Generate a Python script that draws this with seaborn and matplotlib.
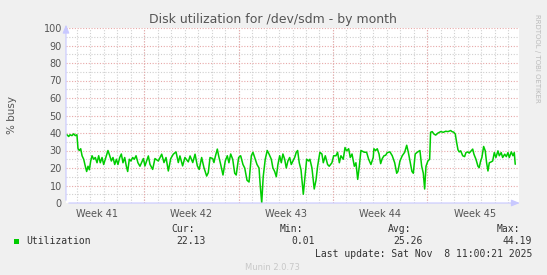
import matplotlib
matplotlib.use("Agg")
import matplotlib.pyplot as plt
import numpy as np
import pandas as pd
import seaborn as sns

# days since the left edge of the graph, % busy
days = [0.07, 0.20, 0.30, 0.44, 0.57, 0.69, 0.81, 0.89, 0.99, 1.09, 1.19, 1.31, 1.43, 1.53, 1.63, 1.73,
        1.83, 1.93, 2.05, 2.17, 2.30, 2.42, 2.54, 2.67, 2.79, 2.91, 3.11, 3.24, 3.36, 3.48, 3.61, 3.73,
        3.85, 3.98, 4.10, 4.22, 4.35, 4.47, 4.57, 4.69, 4.81, 4.94, 5.06, 5.19, 5.33, 5.48,
        5.73, 5.85, 6.10, 6.22, 6.42, 6.59, 6.84, 7.09, 7.26, 7.41, 7.58, 7.76, 7.95, 8.15, 8.32, 8.44,
        8.64, 8.81, 9.06, 9.19, 9.39, 9.56, 9.73, 9.87, 10.05, 10.22, 10.42, 10.54, 10.67, 10.87, 10.96,
        11.06, 11.21, 11.31,
        11.46, 11.63, 11.80, 11.95, 12.07, 12.20, 12.35, 12.50, 12.61, 12.79, 12.94, 13.11, 13.24, 13.41,
        13.56, 13.73, 13.85, 13.98, 14.15, 14.30, 14.39, 14.50, 14.61, 14.76, 14.91, 15.04, 15.21, 15.33,
        15.46, 15.58, 15.70, 15.83, 15.95, 16.07, 16.20, 16.32, 16.44, 16.57, 16.69, 16.81, 16.94, 17.06,
        17.16, 17.28, 17.41, 17.58, 17.73, 17.83, 17.98, 18.07, 18.22, 18.39, 18.52, 18.64, 18.81, 18.96,
        19.06, 19.21, 19.38, 19.50, 19.70, 19.83, 20.00, 20.12, 20.25, 20.37, 20.54, 20.67, 20.79, 20.94,
        21.06, 21.19, 21.36, 21.48, 21.61, 21.73, 21.85, 22.10, 22.27, 22.42, 22.59, 22.76,
        22.81, 22.94, 23.06, 23.19, 23.31, 23.43, 23.56, 23.68, 23.80, 24.00, 24.17, 24.35, 24.50, 24.59,
        24.74, 24.91, 25.09, 25.24, 25.36, 25.48, 25.63, 25.73, 25.87, 26.02, 26.22, 26.35, 26.47, 26.57,
        26.67, 26.81, 26.94, 27.01, 27.13, 27.26, 27.39, 27.56, 27.76, 27.95, 28.13, 28.30, 28.50,
        28.59, 28.72, 28.84, 28.94, 29.04, 29.13, 29.24, 29.39, 29.53, 29.63, 29.78, 29.87, 30.02, 30.13,
        30.22, 30.37, 30.52, 30.61, 30.72, 30.81, 30.94, 31.06, 31.16, 31.26, 31.36, 31.50, 31.61, 31.73,
        31.85, 32.00, 32.10, 32.24, 32.35, 32.50, 32.62, 32.74, 32.84, 32.99, 33.11, 33.21, 33.28]
busy = [39, 38, 39, 38.5, 39.5, 38.5, 39, 31, 30, 31, 27, 25, 21, 18, 21, 19,
        24, 27, 25, 26, 23, 27, 23, 26, 22, 25, 30, 27, 24, 26, 22, 25,
        22, 26, 28, 23, 26, 21, 18, 25, 24, 26, 25, 27, 23, 21,
        25.4, 21.2, 26.9, 22.1, 19.2, 25.4, 24, 27.9, 23.1, 26, 18.3, 25.4, 27.9, 29.2, 23.1, 26.9,
        21.2, 26, 23.5, 26.9, 23.1, 27.9, 21.2, 19.2, 26, 20.2, 15.4, 17.3, 26, 25.4, 23.1,
        26.5, 30.8, 26.9,
        22, 16, 24, 27, 23, 28, 25, 17, 16, 26, 27, 22, 20, 13,
        12, 27, 29, 26, 22, 20, 10, 0.01, 15, 25, 30, 28, 25, 20,
        18, 15, 22, 27, 23, 28, 25, 20, 24, 26, 22, 24, 26, 29,
        30, 23, 19, 5, 17, 25, 24, 25, 20, 8, 13, 21, 29, 28,
        23, 27, 22, 21, 23, 27, 27, 29, 23, 27, 25, 31.7, 29.8, 31,
        26, 28, 21, 23, 13.5, 21, 30, 29, 29, 25, 22, 26,
        31, 30, 31, 28, 22.5, 25.4, 27, 27.3, 28.8, 29.2, 27, 23, 17, 18,
        24, 27, 29, 33, 29, 24, 18, 17, 28, 29, 30, 21, 17, 8,
        21, 24, 25, 40.4, 40.8, 39.4, 38.8, 40, 40.8, 40.4, 41, 40.8, 41.4,
        40.8, 40.5, 39.4, 34.6, 30.4, 29.2, 29.8, 27, 26.5, 28.8, 29.2, 28.5, 29.8, 30.8,
        27.9, 25, 21, 20.2, 24, 26, 32.3, 29.8, 23, 18.3, 23, 23.5, 24, 28.8,
        26, 29.8, 27, 28.8, 26, 27.9, 26.5, 28.8, 26, 29.2, 27, 28.8, 22.13]

week_edges = [5.78, 12.78, 19.78, 26.78]
week_names = ["Week 41", "Week 42", "Week 43", "Week 44", "Week 45"]
y_ticks = [0, 10, 20, 30, 40, 50, 60, 70, 80, 90, 100]
x_max = 33.56

legend_name = "Utilization"
stat_names = ["Cur:", "Min:", "Avg:", "Max:"]
stat_values = ["22.13", "0.01", "25.26", "44.19"]
last_update = "Last update: Sat Nov  8 11:00:21 2025"

W, H = 547, 275
BACK = "#F0F0F0"
GREEN = "#00CC00"
MINOR = "#D0D0D0"
MAJOR = "#E8A8A8"
AXIS = "#C8C8FF"
FONT = "#555555"


def px(x, y):
    return x / W, 1 - y / H


sns.set_style("white")
fig = plt.figure(figsize=(W / 100, H / 100), dpi=100, facecolor=BACK)
ax = fig.add_axes([66 / W, (H - 203) / H, (519 - 66) / W, (203 - 28) / H])
ax.set_facecolor("white")

df = pd.DataFrame({"day": days, "busy": busy})

# grid first, then the data on top
for d in np.arange(week_edges[0] - 5, x_max, 1.0):
    ax.axvline(d, color=MINOR, lw=0.8, dashes=(1, 1.5), zorder=1)
for e in week_edges:
    ax.axvline(e, color=MAJOR, lw=0.8, dashes=(1, 1.5), zorder=1.5)
for v in range(5, 101, 10):
    ax.axhline(v, color=MINOR, lw=0.8, dashes=(1, 1.5), zorder=1)
for v in y_ticks[1:]:
    ax.axhline(v, color=MAJOR, lw=0.8, dashes=(1, 1.5), zorder=1.5)

sns.lineplot(data=df, x="day", y="busy", ax=ax, color=GREEN, linewidth=1.1, zorder=3)

ax.set_xlim(0, x_max)
ax.set_ylim(0, 100)
for s in ax.spines.values():
    s.set_visible(False)

centers = [week_edges[0] - 3.5] + [e + 3.5 for e in week_edges]
ax.set_xticks(centers)
ax.set_xticklabels(week_names)
ax.set_yticks(y_ticks)
ax.set_yticklabels([str(v) for v in y_ticks])
ax.tick_params(axis="both", length=0, labelsize=7, colors=FONT, pad=3)
ax.tick_params(axis="x", pad=4)
ax.set_xlabel("")
ax.set_ylabel("")

# axes with arrows like rrdtool
ax.annotate("", xy=(1.008, 0), xytext=(0, 0), xycoords="axes fraction",
            arrowprops=dict(arrowstyle="-|>,head_length=0.5,head_width=0.2", color=AXIS, lw=0.8),
            annotation_clip=False, zorder=4)
ax.annotate("", xy=(0, 1.035), xytext=(0, 0), xycoords="axes fraction",
            arrowprops=dict(arrowstyle="-|>,head_length=0.5,head_width=0.2", color=AXIS, lw=0.8),
            annotation_clip=False, zorder=4)

fig.text(*px(273, 19), "Disk utilization for /dev/sdm - by month", ha="center", va="center",
         fontsize=9, color=FONT)
fig.text(*px(12, 115), "% busy", ha="center", va="center", rotation=90, fontsize=7.5, color=FONT)
fig.text(*px(537, 14), "RRDTOOL / TOBI OETIKER", ha="center", va="top", rotation=-90,
         fontsize=5, color="#BBBBBB")

mono = "DejaVu Sans Mono"
fig.patches.append(plt.Rectangle(px(14, 244), 5 / W, 5 / H, transform=fig.transFigure,
                                 facecolor=GREEN, edgecolor="none"))
fig.text(*px(26, 241.5), legend_name, ha="left", va="center", fontsize=7, family=mono, color="#333333")
for name, x in zip(stat_names, [171, 280, 388, 497]):
    fig.text(*px(x, 229.5), name, ha="left", va="center", fontsize=7, family=mono, color="#333333")
for val, x in zip(stat_values, [206, 315, 423, 532]):
    fig.text(*px(x, 241.5), val, ha="right", va="center", fontsize=7, family=mono, color="#333333")
fig.text(*px(532, 254), last_update, ha="right", va="center", fontsize=7, family=mono, color="#333333")
fig.text(*px(272, 267), "Munin 2.0.73", ha="center", va="center", fontsize=6, color="#C8C8C8")

fig.savefig("out.png", dpi=100, facecolor=BACK)
